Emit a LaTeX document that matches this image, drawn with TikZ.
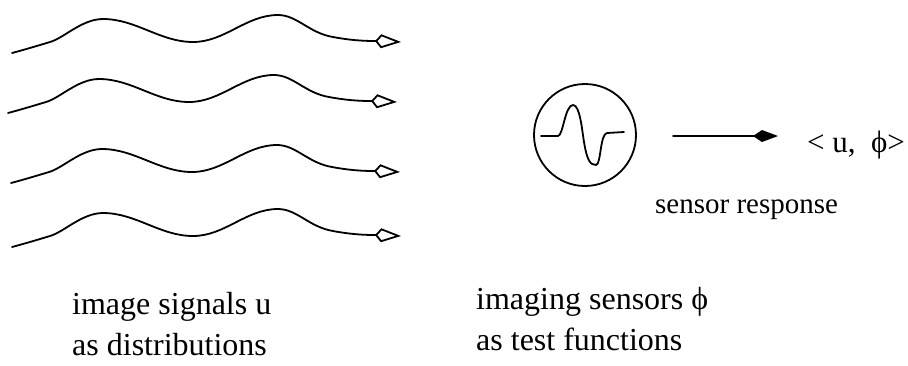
\documentclass[tikz,border=0pt]{standalone}
\usepackage{fontspec}
\setmainfont{Liberation Serif}
\usetikzlibrary{arrows.meta}

\tikzset{
  stroke/.style={line width=1.8pt, line join=round, line cap=round},
  signal/.style={stroke, -{Kite[open, length=26pt, width=14pt, inset=6pt]}},
  probe/.style={stroke, -{Kite[length=25pt, width=12pt, inset=9pt]}},
  caption/.style={inner sep=0pt, anchor=base west, font=\fontsize{32}{38}\selectfont},
  smallcap/.style={inner sep=0pt, anchor=base west, font=\fontsize{29}{34}\selectfont},
}

\begin{document}
\begin{tikzpicture}[x=1pt, y=-1pt]
  \useasboundingbox (0,0) rectangle (908,365);

  % four image signals, each a wavy line ending in an open kite tip
  \foreach \sx/\sy [count=\i] in {12/53, 8/113, 11/183, 12/247} {
    \begin{scope}[shift={(\sx,\sy)}]
      \coordinate (wave\i-start) at (0,0);
      \coordinate (wave\i-end) at (389,-11);
      \draw[signal] (wave\i-start)
        .. controls (15,-4) and (28,-8) .. (38,-11)
        .. controls (52,-15) and (70,-34) .. (91,-34)
        .. controls (124,-34) and (148,-11) .. (181,-11)
        .. controls (213,-11) and (234,-38) .. (266,-38)
        .. controls (285,-38) and (297,-20) .. (321,-16)
        .. controls (337,-13) and (350,-12) .. (363,-12)
        -- (wave\i-end);
    \end{scope}
  }

  % the sensor: a circle holding its test function
  \node[draw, circle, stroke, minimum size=102pt, inner sep=0pt] (sensor) at (585,135) {};
  \draw[stroke] (541,136) -- (558,136)
    .. controls (563,136) and (565,105) .. (573,105)
    .. controls (580,105) and (582,130) .. (584,142)
    .. controls (587,160) and (590,165) .. (596,165)
    .. controls (601,165) and (600,134) .. (607,133)
    -- (624,132);

  % response arrow and pairing
  \coordinate (resp-start) at (673,136);
  \coordinate (resp-end) at (778,136);
  \draw[probe] (resp-start) -- (resp-end);
  \node[caption, font=\fontsize{31}{36}\selectfont] (pairing) at (807,152) {<\ u,\ \ ϕ>};
  \node[smallcap] (response) at (655,213) {sensor response};

  % captions
  \node[caption] (sig1) at (72,314) {image signals u};
  \node[caption] (sig2) at (72,355) {as distributions};
  \node[caption] (sen1) at (476,309) {imaging sensors ϕ};
  \node[caption] (sen2) at (476,350) {as test functions};
\end{tikzpicture}
\end{document}
